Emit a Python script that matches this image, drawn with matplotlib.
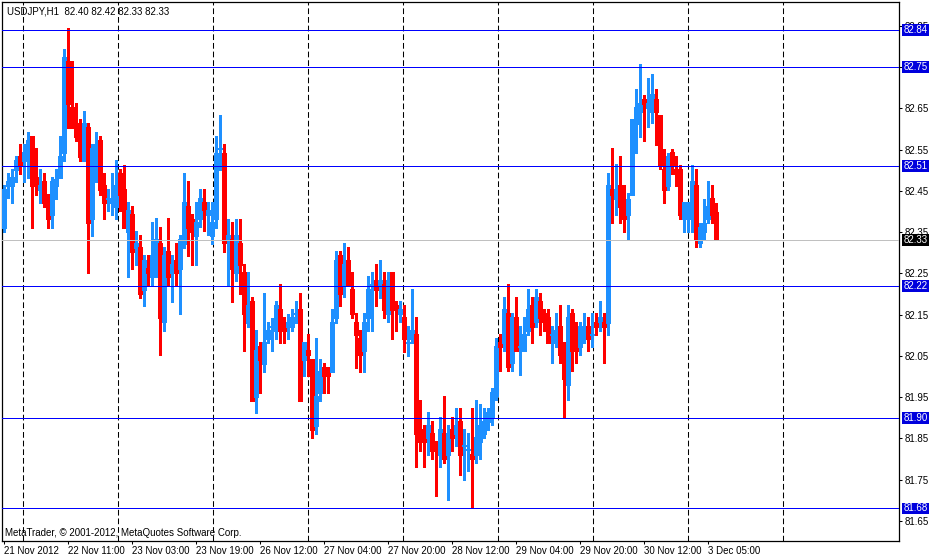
import matplotlib
matplotlib.use('Agg')
import matplotlib.pyplot as plt
import numpy as np

plt.rcParams['font.family'] = ['Liberation Sans', 'DejaVu Sans']

# USDJPY H1 bars (bar 0 = 21 Nov 2012 19:00)
opens = [82.361, 82.462, 82.462, 82.501, 82.534, 82.523, 82.533, 82.583, 82.483, 82.453,
         82.474, 82.432, 82.391, 82.462, 82.482, 82.542, 82.765, 82.653, 82.614, 82.593,
         82.523, 82.605, 82.382, 82.542, 82.573, 82.464, 82.430, 82.420, 82.411, 82.493,
         82.455, 82.350, 82.393, 82.312, 82.313, 82.210, 82.263, 82.242, 82.281, 82.324,
         82.131, 82.304, 82.252, 82.282, 82.261, 82.322, 82.413, 82.383, 82.341, 82.383,
         82.423, 82.392, 82.341, 82.383, 82.552, 82.543, 82.333, 82.333, 82.252, 82.324,
         82.253, 82.130, 82.183, 81.951, 82.074, 82.031, 82.092, 82.121, 82.111, 82.164,
         82.122, 82.121, 82.121, 82.152, 82.164, 82.041, 82.064, 82.042, 81.881, 81.961,
         82.023, 82.013, 82.012, 82.143, 82.295, 82.222, 82.282, 82.212, 82.132, 82.093,
         82.063, 82.143, 82.222, 82.234, 82.223, 82.224, 82.152, 82.253, 82.173, 82.152,
         82.144, 82.082, 82.092, 82.103, 81.873, 81.853, 81.852, 81.863, 81.834, 81.810,
         81.863, 81.810, 81.873, 81.861, 81.892, 81.832, 81.821, 81.812, 81.810, 81.842,
         81.861, 81.890, 81.899, 81.952, 82.084, 82.082, 82.154, 82.032, 82.144, 82.072,
         82.063, 82.111, 82.173, 82.131, 82.183, 82.154, 82.144, 82.101, 82.082, 82.122,
         82.064, 81.980, 82.154, 82.074, 82.072, 82.111, 82.122, 82.101, 82.132, 82.131,
         82.132, 82.130, 82.455, 82.431, 82.464, 82.431, 82.392, 82.441, 82.613, 82.642,
         82.673, 82.652, 82.642, 82.673, 82.634, 82.502, 82.463, 82.544, 82.502, 82.502,
         82.383, 82.383, 82.383, 82.464, 82.323, 82.351, 82.383, 82.433, 82.400]
highs = [82.464, 82.493, 82.503, 82.534, 82.563, 82.563, 82.593, 82.583, 82.554, 82.503,
         82.493, 82.442, 82.483, 82.503, 82.583, 82.794, 82.845, 82.765, 82.663, 82.624,
         82.643, 82.614, 82.563, 82.593, 82.583, 82.493, 82.454, 82.493, 82.525, 82.503,
         82.513, 82.424, 82.413, 82.353, 82.343, 82.295, 82.295, 82.374, 82.384, 82.363,
         82.314, 82.384, 82.295, 82.324, 82.343, 82.493, 82.474, 82.394, 82.423, 82.455,
         82.455, 82.423, 82.423, 82.583, 82.634, 82.564, 82.383, 82.374, 82.383, 82.383,
         82.273, 82.253, 82.193, 82.113, 82.084, 82.202, 82.132, 82.142, 82.183, 82.224,
         82.144, 82.152, 82.164, 82.183, 82.202, 82.084, 82.103, 82.042, 82.093, 82.042,
         82.033, 82.023, 82.164, 82.304, 82.304, 82.324, 82.314, 82.253, 82.154, 82.113,
         82.154, 82.244, 82.253, 82.273, 82.282, 82.253, 82.253, 82.253, 82.183, 82.183,
         82.173, 82.122, 82.212, 82.144, 81.943, 81.882, 81.914, 81.892, 81.844, 81.902,
         81.953, 81.882, 81.902, 81.924, 81.924, 81.873, 81.863, 81.924, 81.943, 81.933,
         81.924, 81.924, 81.971, 82.093, 82.103, 82.193, 82.224, 82.154, 82.193, 82.122,
         82.144, 82.212, 82.193, 82.212, 82.202, 82.164, 82.164, 82.122, 82.154, 82.173,
         82.084, 82.173, 82.164, 82.132, 82.132, 82.154, 82.144, 82.154, 82.154, 82.183,
         82.154, 82.494, 82.554, 82.515, 82.535, 82.464, 82.445, 82.624, 82.696, 82.757,
         82.682, 82.724, 82.733, 82.696, 82.634, 82.552, 82.543, 82.552, 82.535, 82.512,
         82.423, 82.423, 82.512, 82.502, 82.371, 82.431, 82.474, 82.464, 82.420]
lows = [82.351, 82.433, 82.420, 82.472, 82.492, 82.472, 82.482, 82.361, 82.440, 82.420,
        82.411, 82.361, 82.361, 82.430, 82.482, 82.523, 82.603, 82.603, 82.571, 82.523,
        82.523, 82.252, 82.341, 82.472, 82.440, 82.382, 82.401, 82.391, 82.382, 82.401,
        82.361, 82.242, 82.261, 82.271, 82.190, 82.171, 82.223, 82.223, 82.242, 82.051,
        82.111, 82.223, 82.181, 82.223, 82.152, 82.312, 82.293, 82.271, 82.271, 82.362,
        82.353, 82.343, 82.322, 82.361, 82.500, 82.303, 82.223, 82.181, 82.232, 82.201,
        82.063, 82.120, 81.941, 81.912, 81.961, 82.012, 82.082, 82.063, 82.092, 82.082,
        82.082, 82.092, 82.111, 82.130, 81.941, 82.002, 82.002, 81.852, 81.861, 81.941,
        81.961, 81.961, 82.012, 82.130, 82.172, 82.193, 82.222, 82.143, 82.021, 82.012,
        82.012, 82.110, 82.110, 82.172, 82.191, 82.143, 82.133, 82.092, 82.110, 82.133,
        82.060, 82.050, 82.082, 81.781, 81.819, 81.781, 81.810, 81.800, 81.711, 81.781,
        81.790, 81.701, 81.819, 81.832, 81.761, 81.750, 81.772, 81.680, 81.790, 81.800,
        81.850, 81.870, 81.882, 81.942, 82.013, 82.063, 82.013, 82.013, 82.063, 82.003,
        82.063, 82.101, 82.082, 82.121, 82.101, 82.111, 82.082, 82.032, 82.072, 82.032,
        81.899, 81.942, 82.013, 82.032, 82.051, 82.082, 82.063, 82.072, 82.101, 82.111,
        82.032, 82.100, 82.373, 82.392, 82.373, 82.351, 82.333, 82.441, 82.543, 82.581,
        82.572, 82.604, 82.614, 82.562, 82.502, 82.421, 82.453, 82.492, 82.463, 82.383,
        82.351, 82.351, 82.351, 82.313, 82.313, 82.333, 82.373, 82.373, 82.330]
closes = [82.454, 82.474, 82.483, 82.525, 82.511, 82.544, 82.573, 82.462, 82.462, 82.464,
          82.420, 82.382, 82.474, 82.480, 82.534, 82.774, 82.661, 82.603, 82.581, 82.533,
          82.614, 82.373, 82.554, 82.563, 82.453, 82.420, 82.432, 82.432, 82.464, 82.440,
          82.361, 82.403, 82.303, 82.323, 82.200, 82.282, 82.252, 82.295, 82.333, 82.142,
          82.295, 82.242, 82.273, 82.252, 82.333, 82.423, 82.361, 82.351, 82.374, 82.433,
          82.403, 82.403, 82.374, 82.543, 82.554, 82.323, 82.343, 82.261, 82.343, 82.271,
          82.152, 82.173, 81.941, 82.064, 82.041, 82.084, 82.113, 82.122, 82.173, 82.111,
          82.111, 82.132, 82.144, 82.154, 81.941, 82.084, 82.051, 81.871, 81.953, 82.013,
          82.002, 82.002, 82.132, 82.282, 82.201, 82.273, 82.222, 82.152, 82.101, 82.051,
          82.132, 82.212, 82.223, 82.210, 82.234, 82.162, 82.234, 82.162, 82.162, 82.164,
          82.092, 82.084, 82.113, 81.861, 81.842, 81.842, 81.882, 81.819, 81.819, 81.873,
          81.800, 81.863, 81.852, 81.882, 81.810, 81.834, 81.823, 81.800, 81.853, 81.882,
          81.892, 81.913, 81.962, 82.074, 82.072, 82.164, 82.022, 82.144, 82.063, 82.074,
          82.103, 82.164, 82.121, 82.193, 82.143, 82.131, 82.082, 82.103, 82.113, 82.051,
          81.993, 82.144, 82.063, 82.063, 82.122, 82.113, 82.092, 82.103, 82.121, 82.144,
          82.121, 82.464, 82.441, 82.455, 82.412, 82.383, 82.431, 82.624, 82.653, 82.663,
          82.661, 82.663, 82.685, 82.642, 82.512, 82.453, 82.535, 82.512, 82.492, 82.392,
          82.423, 82.404, 82.474, 82.333, 82.362, 82.373, 82.413, 82.392, 82.330]

level_lines = [82.84, 82.75, 82.51, 82.22, 81.90, 81.68]
bid_price = 82.33
price_ticks = [81.65, 81.75, 81.85, 81.95, 82.05, 82.15, 82.25, 82.35, 82.45, 82.55, 82.65, 82.75, 82.85]
time_labels = ['21 Nov 2012', '22 Nov 11:00', '23 Nov 03:00', '23 Nov 19:00', '26 Nov 12:00',
               '27 Nov 04:00', '27 Nov 20:00', '28 Nov 12:00', '29 Nov 04:00', '29 Nov 20:00',
               '30 Nov 12:00', '3 Dec 05:00']
label_step = 16

W, H = 937, 558
fig = plt.figure(figsize=(W / 100, H / 100), dpi=100)
# plot frame spans pixels x 2..899, y 2..541
ax = fig.add_axes([2 / W, (H - 541) / H, 897 / W, 539 / H])

o = np.array(opens)
h = np.array(highs)
l = np.array(lows)
c = np.array(closes)
x = np.arange(len(o))
colors = np.where(c >= o, '#1e90ff', '#ff0000')

# 4 px per bar, chart shifted so the last bars leave empty space on the right
xmin = -0.375
ax.set_xlim(xmin, xmin + 897 / 4)
ax.set_ylim(81.6012, 82.9079)

# vertical dashed grid (~95 px apart)
for gx in np.linspace(4.9, 194.9, 9):
    ax.axvline(gx, color='black', lw=0.75, ls=(0, (5.5, 2.8)), zorder=1)

# wicks 1 px, bodies 3 px wide
ax.vlines(x, l, h, colors=colors, linewidth=0.75, antialiased=False, zorder=2)
body_lo = np.minimum(o, c)
body_hi = np.maximum(np.maximum(o, c), body_lo + 0.0025)
ax.vlines(x, body_lo, body_hi, colors=colors, linewidth=2.2, antialiased=False,
          capstyle='butt', zorder=3)

for lvl in level_lines:
    ax.axhline(lvl, color='#0000ff', lw=0.7, antialiased=False, zorder=4)
    ax.annotate(f'{lvl:.2f}', xy=(1, lvl), xycoords=('axes fraction', 'data'),
                xytext=(3.2, 0), textcoords='offset points', ha='left', va='center',
                color='white', fontsize=7, annotation_clip=False, zorder=6,
                bbox=dict(boxstyle='square,pad=0.1', fc='#0000dd', ec='none'))

ax.axhline(bid_price, color='#c0c0c0', lw=0.7, antialiased=False, zorder=4)
ax.annotate(f'{bid_price:.2f}', xy=(1, bid_price), xycoords=('axes fraction', 'data'),
            xytext=(3.2, 0), textcoords='offset points', ha='left', va='center',
            color='white', fontsize=7, annotation_clip=False, zorder=6,
            bbox=dict(boxstyle='square,pad=0.1', fc='black', ec='none'))

ax.yaxis.tick_right()
ax.set_yticks(price_ticks)
ax.set_yticklabels([f'{p:.2f}' for p in price_ticks])
ax.set_xticks(np.arange(len(time_labels)) * label_step)
ax.set_xticklabels(time_labels)
plt.setp(ax.get_xticklabels(), ha='left')
ax.tick_params(axis='both', direction='out', length=2.4, width=0.75, labelsize=7,
               colors='black')
ax.tick_params(axis='y', pad=1.5)
ax.tick_params(axis='x', pad=1.5)
for sp in ax.spines.values():
    sp.set_color('black')
    sp.set_linewidth(0.9)

fig.text(7 / W, 1 - 11 / H, 'USDJPY,H1  82.40 82.42 82.33 82.33', fontsize=7,
         va='center', ha='left')
fig.text(5 / W, 1 - 533 / H, 'MetaTrader, \u00a9 2001-2012, MetaQuotes Software Corp.',
         fontsize=7, va='center', ha='left')

fig.savefig('out.png', dpi=100)
